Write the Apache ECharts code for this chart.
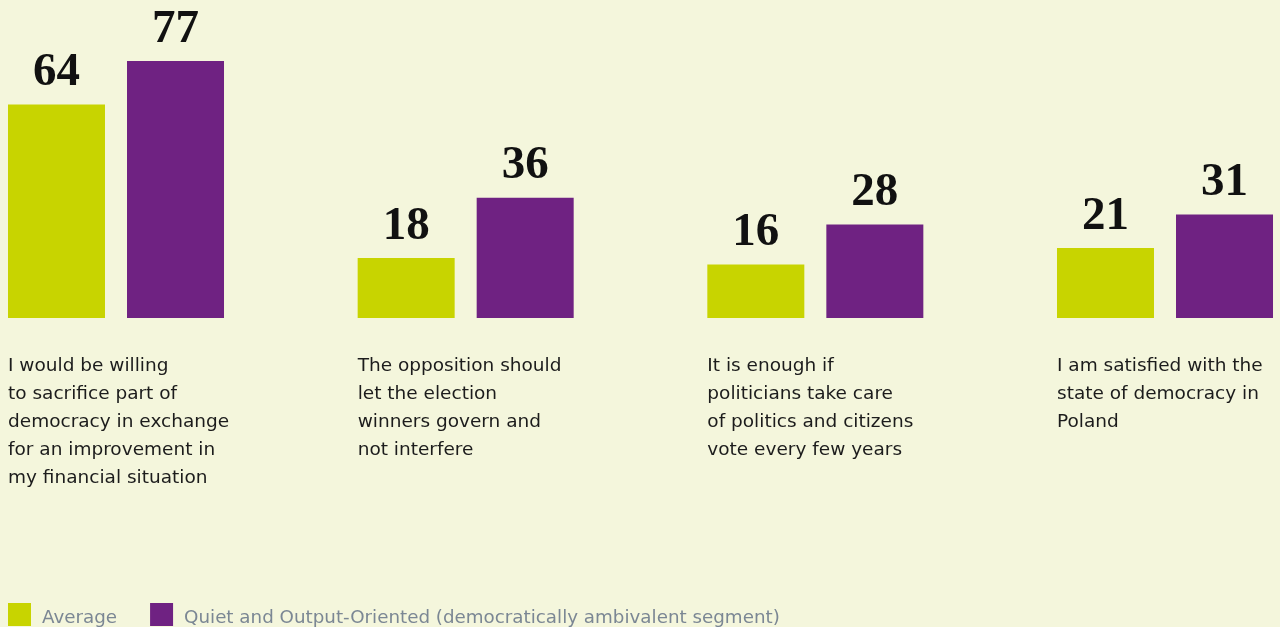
<!DOCTYPE html>
<html><head><meta charset="utf-8">
<style>html,body{margin:0;padding:0;background:#f4f6dc;}#c{width:1280px;height:627px;}</style>
<script src="https://cdn.jsdelivr.net/npm/echarts@6/dist/echarts.min.js"></script>
</head><body><div id="c"></div>
<script>
const categories = [
  "I would be willing\nto sacrifice part of\ndemocracy in exchange\nfor an improvement in\nmy financial situation",
  "The opposition should\nlet the election\nwinners govern and\nnot interfere",
  "It is enough if\npoliticians take care\nof politics and citizens\nvote every few years",
  "I am satisfied with the\nstate of democracy in\nPoland"
];
const averageValues = [64, 18, 16, 21];
const quietValues = [77, 36, 28, 31];
const seriesNames = ["Average", "Quiet and Output-Oriented (democratically ambivalent segment)"];

const chart = echarts.init(document.getElementById('c'));
const labelStyle = {
  show: true, position: 'top', distance: 8,
  fontFamily: 'Liberation Serif', fontWeight: 'bold', fontSize: 47, color: '#111'
};
chart.setOption({
  backgroundColor: '#f4f6dc',
  animation: false,
  grid: { left: 116, right: 115, top: 51, bottom: 309 },
  legend: {
    left: 3, top: 598, icon: 'rect', itemWidth: 23, itemHeight: 23, itemGap: 33,
    formatter: n => '{t|' + n + '}',
    textStyle: {
      fontFamily: 'DejaVu Sans', fontSize: 18.3, color: '#7b8794',
      rich: { t: { fontFamily: 'DejaVu Sans', fontSize: 18.3, color: '#7b8794', padding: [8, 0, 0, 6] } }
    },
    data: seriesNames
  },
  xAxis: {
    type: 'category', data: categories, boundaryGap: false,
    axisLine: { show: false }, axisTick: { show: false },
    axisLabel: {
      interval: 0, margin: 34, align: 'center', verticalAlign: 'top',
      formatter: v => v.split('\n').map(l => '{a|' + l + '}').join('\n'),
      rich: { a: { width: 216, align: 'left', fontFamily: 'DejaVu Sans', fontSize: 18.5, lineHeight: 28, color: '#1c1c1c' } }
    }
  },
  yAxis: { type: 'value', min: 0, max: 80, show: false, splitLine: { show: false } },
  series: [
    { name: seriesNames[0], type: 'bar', data: averageValues, barWidth: 97, barGap: '22.7%',
      itemStyle: { color: '#c8d400' }, label: labelStyle },
    { name: seriesNames[1], type: 'bar', data: quietValues, barWidth: 97, barGap: '22.7%',
      itemStyle: { color: '#6f2282' }, label: labelStyle }
  ]
});
</script></body></html>
